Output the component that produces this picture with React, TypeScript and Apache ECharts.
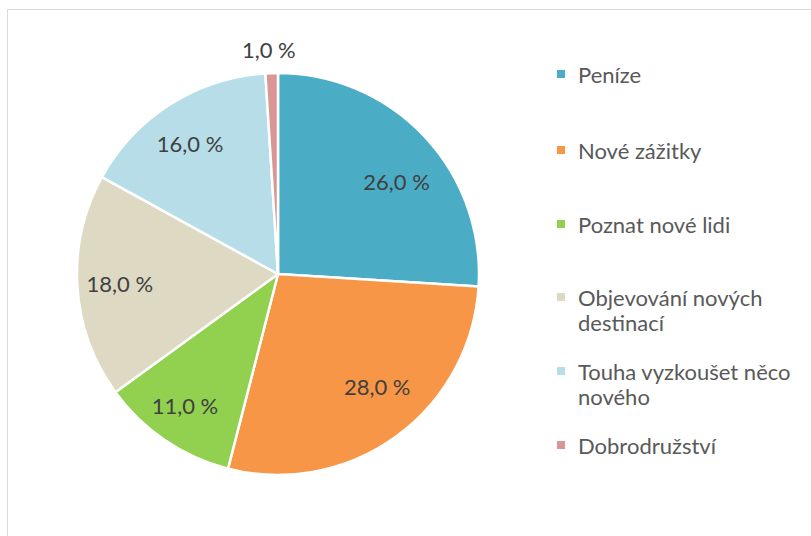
import React, { useEffect, useRef } from "react";
import * as echarts from "echarts";

const categories = [
  "Peníze",
  "Nové zážitky",
  "Poznat nové lidi",
  "Objevování nových destinací",
  "Touha vyzkoušet něco nového",
  "Dobrodružství",
];
const legendLines = [
  ["Peníze"],
  ["Nové zážitky"],
  ["Poznat nové lidi"],
  ["Objevování nových", "destinací"],
  ["Touha vyzkoušet něco", "nového"],
  ["Dobrodružství"],
];
const values = [26.0, 28.0, 11.0, 18.0, 16.0, 1.0];
const colors = ["#4BACC6", "#F79646", "#92D050", "#DDD9C3", "#B7DEE8", "#D99694"];
const outsideLabelIndex = [5];

// layout-only nudges imitating the spreadsheet's "best fit" label placement
const labelNudges = [
  [3, 16],
  [6, -16],
  [-4, 0],
  [0, 0],
  [-3, 3],
  [-2, 2],
];

const fmt = (v: number) => v.toFixed(1).replace(".", ",") + " %";

export default function App() {
  const ref = useRef<HTMLDivElement>(null);
  useEffect(() => {
    document.body.style.margin = "0";
    const chart = echarts.init(ref.current!, null, { renderer: "svg" });
    const center = [278, 274];
    const baseData = categories.map((name, i) => ({
      name,
      value: values[i],
      itemStyle: { color: colors[i] },
    }));
    const labelFont = { fontFamily: "Lato", fontSize: 22, color: "#404040" };
    const legendGraphics: any[] = [];
    const legendTop = [74, 150, 224, 297, 371, 445];
    legendLines.forEach((lines, i) => {
      legendGraphics.push({
        type: "rect",
        shape: { x: 557, y: legendTop[i] - 4, width: 8, height: 8 },
        style: { fill: colors[i] },
        silent: true,
      });
      legendGraphics.push({
        type: "text",
        x: 578,
        y: legendTop[i] - 12,
        style: {
          text: lines.join("\n"),
          font: "22px Lato",
          fill: "#595959",
          lineHeight: 25,
          textVerticalAlign: "top",
        },
        silent: true,
      });
    });
    const labelSeries = (radius: number[], show: (i: number) => boolean) => ({
      type: "pie",
      center,
      radius,
      startAngle: 90,
      clockwise: true,
      silent: true,
      z: 5,
      itemStyle: { color: "rgba(0,0,0,0)", borderWidth: 0 },
      label: {
        show: true,
        position: "inside",
        formatter: (p: any) => fmt(p.value),
        ...labelFont,
      },
      labelLine: { show: false },
      data: categories.map((name, i) => ({
        name,
        value: values[i],
        label: { show: show(i), offset: labelNudges[i] },
      })),
    });
    chart.setOption({
      animation: false,
      backgroundColor: "#ffffff",
      graphic: [
        {
          type: "rect",
          shape: { x: 7.5, y: 9.5, width: 900, height: 600 },
          style: { fill: "none", stroke: "#D9D9D9", lineWidth: 1 },
          silent: true,
          z: -10,
        },
        ...legendGraphics,
      ],
      series: [
        {
          type: "pie",
          center,
          radius: [0, 201],
          startAngle: 90,
          clockwise: true,
          silent: true,
          label: { show: false },
          labelLine: { show: false },
          itemStyle: { borderColor: "#ffffff", borderWidth: 2.5 },
          data: baseData,
        },
        labelSeries([110, 201], (i) => !outsideLabelIndex.includes(i)),
        labelSeries([214, 234], (i) => outsideLabelIndex.includes(i)),
      ],
    });
    return () => chart.dispose();
  }, []);
  return <div ref={ref} style={{ width: 811, height: 536 }} />;
}
